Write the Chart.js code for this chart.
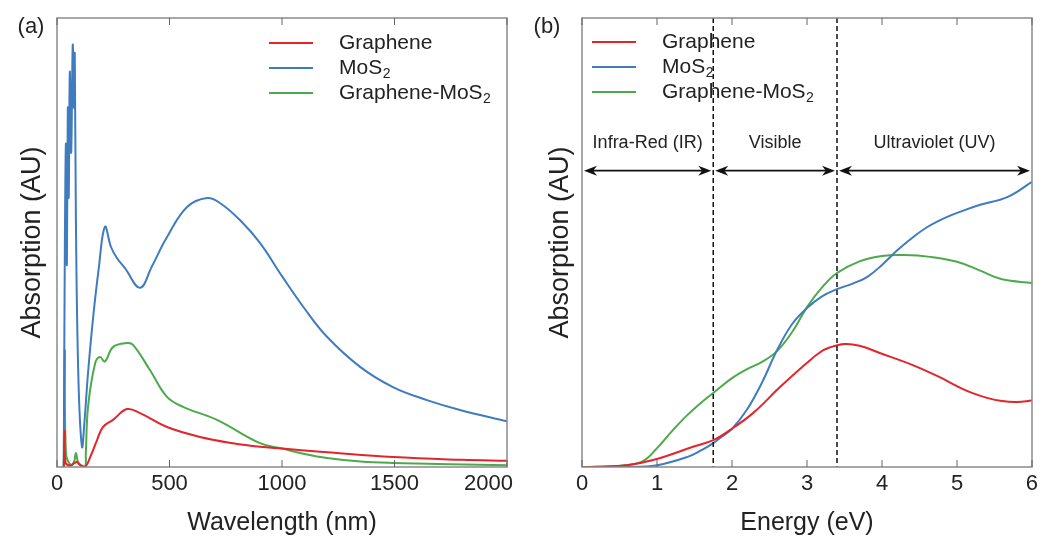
<!DOCTYPE html>
<html>
<head>
<meta charset="utf-8">
<script src="https://cdn.jsdelivr.net/npm/chart.js@4.4.0/dist/chart.umd.min.js"></script>
<style>
  body { margin: 0; background: #fff; width: 1052px; height: 540px; overflow: hidden; }
  .panel { position: absolute; top: 0; width: 526px; height: 540px; }
</style>
</head>
<body>
<div class="panel" style="left:0"><canvas id="chartA" width="526" height="540"></canvas></div>
<div class="panel" style="left:526px"><canvas id="chartB" width="526" height="540"></canvas></div>
<script>
// (a) absorption vs wavelength (nm)
const wlGrapheneNm  = [30, 35, 38, 60, 75, 89, 100, 124, 150, 178, 204, 249, 311, 369, 489, 636, 782, 902, 1000, 1200, 1493, 1800, 2000];
const wlGrapheneAbs = [0, 8, 1, 0.3, 0.8, 1.1, 0.5, 0, 2.5, 6.0, 8.9, 10.5, 12.9, 12.0, 8.9, 6.7, 5.3, 4.5, 4.1, 3.3, 2.2, 1.6, 1.4];

const wlMoS2Nm  = [30, 35, 40, 44, 48, 52, 57, 63, 70, 75, 79, 84, 95, 111, 122, 138, 160, 185, 213, 240, 267, 302, 369, 420, 489, 578, 667, 724, 813, 902, 1000, 1100, 1200, 1347, 1493, 1644, 1791, 2000];
const wlMoS2Abs = [0, 50, 72, 45, 80, 60, 88, 70, 94, 80, 92, 55, 20, 4.5, 10, 21, 33, 44, 53.5, 49, 46.5, 44.3, 39.9, 44.5, 51.2, 57.9, 59.9, 58.8, 55, 49.9, 42.5, 35.3, 29.0, 22.3, 17.8, 14.9, 12.7, 10.2];

const wlHybridNm  = [30, 35, 40, 60, 75, 84, 95, 124, 128, 138, 169, 191, 213, 249, 311, 338, 413, 489, 560, 711, 902, 1000, 1100, 1200, 1350, 1493, 2000];
const wlHybridAbs = [0, 26, 3, 0.5, 1, 3.1, 1, 0, 3, 13.4, 23, 24.5, 23.5, 26.7, 27.6, 27.2, 21.6, 15.6, 13.4, 10.5, 5.3, 4.1, 2.9, 2.0, 1.2, 0.9, 0.4];

// (b) absorption vs energy (eV)
const enGrapheneEv  = [0, 0.3, 0.6, 1.0, 1.48, 1.75, 1.97, 2.28, 2.64, 3.0, 3.17, 3.3, 3.5, 3.7, 3.97, 4.41, 4.77, 5.0, 5.2, 5.4, 5.6, 5.8, 6.0];
const enGrapheneAbs = [0, 0.1, 0.4, 1.8, 4.5, 6.0, 8.2, 12.0, 17.8, 23.2, 25.5, 26.6, 27.4, 27.0, 25.4, 22.7, 20.0, 18.0, 16.5, 15.4, 14.7, 14.5, 14.8];

const enMoS2Ev  = [0, 0.6, 1.0, 1.4, 1.6, 1.75, 1.85, 2.0, 2.2, 2.4, 2.6, 2.8, 3.0, 3.2, 3.4, 3.6, 3.8, 4.0, 4.2, 4.4, 4.6, 4.87, 5.1, 5.31, 5.67, 6.0];
const enMoS2Abs = [0, 0, 0.4, 2.2, 3.8, 5.3, 6.6, 8.5, 12.8, 18.8, 26, 31.8, 35.4, 38.0, 39.6, 40.8, 42.3, 45.0, 48.2, 51.0, 53.4, 55.7, 57.2, 58.4, 60.1, 63.5];

const enHybridEv  = [0, 0.5, 0.8, 1.0, 1.2, 1.4, 1.6, 1.75, 2.0, 2.2, 2.4, 2.6, 2.8, 3.0, 3.2, 3.4, 3.7, 4.0, 4.3, 4.64, 5.0, 5.3, 5.6, 6.0];
const enHybridAbs = [0, 0.3, 1.2, 4.2, 8.0, 11.5, 14.5, 16.5, 19.8, 21.8, 23.4, 25.8, 30, 35.6, 40, 43.2, 45.8, 47.0, 47.2, 46.8, 45.7, 43.8, 41.8, 41.0];

const seriesNames = ['Graphene', 'MoS₂', 'Graphene-MoS₂'];
const seriesColors = ['#e3242b', '#3f7cbf', '#4caa4a'];

// spectral regions in (b)
const regionEdges = [0, 1.75, 3.4, 6];
const regionNames = ['Infra-Red (IR)', 'Visible', 'Ultraviolet (UV)'];
const arrowLevel = 66;
const labelLevel = 72.2;

const FONT = '"Liberation Sans", Arial, sans-serif';

function pairs(xs, ys) {
  return xs.map((v, i) => ({ x: v, y: ys[i] }));
}

// text with ₂ drawn as a small lowered 2
function subText(ctx, text, x, y, size) {
  const parts = text.split('₂');
  let cx = x;
  ctx.textAlign = 'left';
  ctx.textBaseline = 'middle';
  parts.forEach((p, i) => {
    ctx.font = size + 'px ' + FONT;
    ctx.fillText(p, cx, y);
    cx += ctx.measureText(p).width;
    if (i < parts.length - 1) {
      ctx.font = Math.round(size * 0.65) + 'px ' + FONT;
      ctx.fillText('2', cx + 0.5, y + size * 0.3);
      cx += ctx.measureText('2').width + 0.5;
    }
  });
}

function arrowHead(ctx, tipX, yy, dir) {
  const len = 13, half = 5;
  ctx.beginPath();
  ctx.moveTo(tipX, yy);
  ctx.lineTo(tipX + dir * len, yy - half);
  ctx.lineTo(tipX + dir * len * 0.7, yy);
  ctx.lineTo(tipX + dir * len, yy + half);
  ctx.closePath();
  ctx.fill();
}

const panelDecor = {
  id: 'panelDecor',
  afterDatasetsDraw(chart, args, opts) {
    const { ctx, chartArea: a, scales: { x, y } } = chart;
    ctx.save();

    if (opts.regions) {
      ctx.strokeStyle = '#111';
      ctx.fillStyle = '#111';
      // dashed boundaries
      ctx.lineWidth = 1.5;
      ctx.setLineDash([5, 3]);
      regionEdges.slice(1, -1).forEach(e => {
        const px = x.getPixelForValue(e);
        ctx.beginPath();
        ctx.moveTo(px, a.top);
        ctx.lineTo(px, a.bottom);
        ctx.stroke();
      });
      ctx.setLineDash([]);
      // arrows + labels
      const ay = y.getPixelForValue(arrowLevel);
      const ly = y.getPixelForValue(labelLevel);
      ctx.lineWidth = 1.8;
      regionNames.forEach((name, i) => {
        const x0 = x.getPixelForValue(regionEdges[i]) + 2;
        const x1 = x.getPixelForValue(regionEdges[i + 1]) - 2;
        ctx.beginPath();
        ctx.moveTo(x0 + 6, ay);
        ctx.lineTo(x1 - 6, ay);
        ctx.stroke();
        arrowHead(ctx, x0, ay, 1);
        arrowHead(ctx, x1, ay, -1);
        ctx.font = '18px ' + FONT;
        ctx.textAlign = 'center';
        ctx.textBaseline = 'middle';
        ctx.fillStyle = '#222';
        ctx.fillText(name, (x0 + x1) / 2, ly);
        ctx.fillStyle = '#111';
      });
    }

    // box
    ctx.strokeStyle = '#8a8a8a';
    ctx.lineWidth = 1.5;
    ctx.strokeRect(a.left, a.top, a.right - a.left, a.bottom - a.top);

    // inward ticks top and bottom, with labels
    ctx.strokeStyle = '#666';
    ctx.lineWidth = 1;
    ctx.fillStyle = '#222';
    ctx.font = '22px ' + FONT;
    ctx.textAlign = 'center';
    ctx.textBaseline = 'middle';
    x.ticks.forEach(t => {
      const px = x.getPixelForValue(t.value);
      ctx.beginPath();
      ctx.moveTo(px, a.bottom);
      ctx.lineTo(px, a.bottom - 7);
      ctx.moveTo(px, a.top);
      ctx.lineTo(px, a.top + 7);
      ctx.stroke();
      const label = String(t.value);
      const w = ctx.measureText(label).width;
      ctx.fillText(label, Math.min(px, a.right + 6 - w / 2), a.bottom + 17);
    });

    // legend
    const lg = opts.legend;
    chart.data.datasets.forEach((ds, i) => {
      const ry = lg.y + i * 25;
      ctx.strokeStyle = ds.borderColor;
      ctx.lineWidth = 2;
      ctx.beginPath();
      ctx.moveTo(lg.x, ry);
      ctx.lineTo(lg.x + 44, ry);
      ctx.stroke();
      ctx.fillStyle = '#222';
      subText(ctx, ds.label, lg.x + 70, ry, 21);
    });

    // panel letter
    ctx.fillStyle = '#222';
    ctx.font = '22px ' + FONT;
    ctx.textAlign = 'center';
    ctx.textBaseline = 'middle';
    ctx.fillText(opts.letter.text, opts.letter.x, opts.letter.y);

    ctx.restore();
  }
};

function makeDatasets(sets) {
  return sets.map((s, i) => ({
    label: seriesNames[i],
    data: s,
    borderColor: seriesColors[i],
    borderWidth: 2,
    pointRadius: 0,
    fill: false,
    tension: 0.4
  }));
}

function makeOptions(xMax, step, xTitle, yWidth, titlePad, padRight, decor) {
  return {
    responsive: false,
    animation: false,
    events: [],
    layout: { padding: { top: 18, right: padRight, left: 0, bottom: 0 } },
    plugins: { legend: { display: false }, tooltip: { enabled: false }, panelDecor: decor },
    scales: {
      x: {
        type: 'linear', min: 0, max: xMax,
        ticks: { display: false, stepSize: step },
        grid: { display: false, drawTicks: false },
        border: { display: false },
        title: { display: true, text: xTitle, color: '#222', font: { family: FONT, size: 25 }, padding: { top: 0, bottom: 2 } },
        afterFit: s => { s.height = 73; s.paddingLeft = 0; s.paddingRight = 0; }
      },
      y: {
        min: 0, max: 100,
        ticks: { display: false },
        grid: { display: false, drawTicks: false },
        border: { display: false },
        title: { display: true, text: 'Absorption (AU)', color: '#222', font: { family: FONT, size: 27 }, padding: { top: titlePad, bottom: 0 } },
        afterFit: s => { s.width = yWidth; }
      }
    }
  };
}

new Chart(document.getElementById('chartA'), {
  type: 'line',
  data: {
    datasets: makeDatasets([
      pairs(wlGrapheneNm, wlGrapheneAbs),
      pairs(wlMoS2Nm, wlMoS2Abs),
      pairs(wlHybridNm, wlHybridAbs)
    ])
  },
  options: makeOptions(2000, 500, 'Wavelength (nm)', 57, 16, 19,
    { legend: { x: 269, y: 43 }, letter: { text: '(a)', x: 31, y: 27 } }),
  plugins: [panelDecor]
});

new Chart(document.getElementById('chartB'), {
  type: 'line',
  data: {
    datasets: makeDatasets([
      pairs(enGrapheneEv, enGrapheneAbs),
      pairs(enMoS2Ev, enMoS2Abs),
      pairs(enHybridEv, enHybridAbs)
    ])
  },
  options: makeOptions(6, 1, 'Energy (eV)', 56, 18, 20,
    { legend: { x: 66, y: 42 }, letter: { text: '(b)', x: 21, y: 27 }, regions: true }),
  plugins: [panelDecor]
});
</script>
</body>
</html>
